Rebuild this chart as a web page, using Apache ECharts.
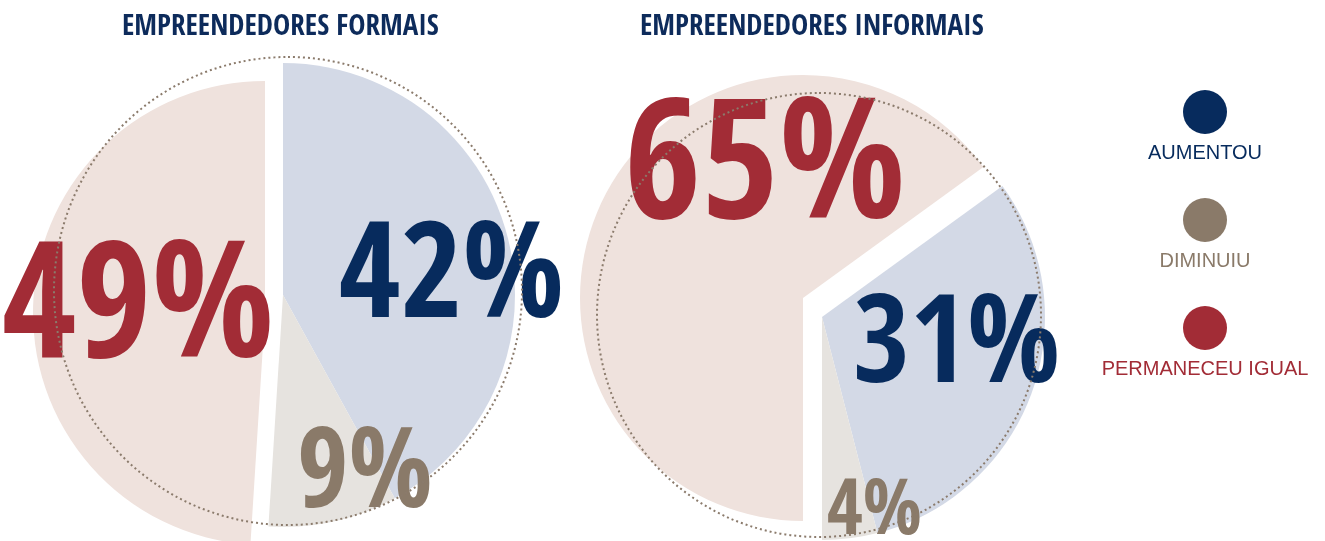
<!DOCTYPE html>
<html>
<head>
<meta charset="utf-8">
<script src="https://cdn.jsdelivr.net/npm/echarts@6/dist/echarts.min.js"></script>
<style>
html,body{margin:0;padding:0;background:#ffffff;}
#c{width:1325px;height:541px;}
</style>
</head>
<body>
<div id="c"></div>
<script>
// ---- data ----
const categories = ['AUMENTOU', 'DIMINUIU', 'PERMANECEU IGUAL'];
const formaisValues = [42, 9, 49];
const informaisValues = [31, 4, 65];
const chartTitles = ['EMPREENDEDORES FORMAIS', 'EMPREENDEDORES INFORMAIS'];

// ---- styles ----
const sliceColors = ['#d3d9e6', '#e6e3df', '#efe2dd'];
const textColors = ['#072b5d', '#8a7a69', '#a22c36'];
const titleColor = '#0d2b5b';
const dotColor = '#8b7b6c';
const numFont = "'Open Sans Condensed', 'Noto Sans', sans-serif";

function pieSeries(values, cfg) {
  return {
    type: 'pie',
    center: cfg.center,
    radius: [0, cfg.r],
    startAngle: cfg.startAngle,
    clockwise: true,
    silent: true,
    z: 2,
    avoidLabelOverlap: false,
    legendHoverLink: false,
    emphasis: { disabled: true },
    itemStyle: { borderWidth: 0 },
    labelLine: { show: false },
    label: {
      show: true,
      position: 'inside',
      formatter: '{c}%',
      fontFamily: numFont,
      fontWeight: 'bold'
    },
    labelLayout: function (p) {
      const o = cfg.offsets[p.dataIndex];
      return { dx: o[0], dy: o[1] };
    },
    data: values.map(function (v, i) {
      return {
        name: categories[i],
        value: v,
        itemStyle: { color: cfg.show[i] ? sliceColors[i] : 'rgba(0,0,0,0)' },
        label: cfg.show[i]
          ? { show: true, color: textColors[i], fontSize: cfg.fontSizes[i] }
          : { show: false }
      };
    })
  };
}

function dottedRing(center, r) {
  return {
    type: 'pie',
    center: center,
    radius: [0, r],
    silent: true,
    z: 5,
    legendHoverLink: false,
    emphasis: { disabled: true },
    label: { show: false },
    labelLine: { show: false },
    itemStyle: {
      color: 'rgba(0,0,0,0)',
      borderColor: dotColor,
      borderWidth: 2,
      borderType: [2, 3]
    },
    data: [{ value: 1, name: '' }]
  };
}

const rich = {};
categories.forEach(function (c, i) {
  rich['d' + i] = { width: 44, height: 44, borderRadius: 22, backgroundColor: textColors[i], align: 'center' };
  rich['t' + i] = { width: 230, align: 'center', fontSize: 20, lineHeight: 38, fontFamily: 'Liberation Sans', color: textColors[i] };
});

const titleStyle = { fontFamily: numFont, fontWeight: 'bold', fontSize: 29, color: titleColor };

const option = {
  backgroundColor: '#ffffff',
  animation: false,
  title: [
    { text: chartTitles[0], left: 117, top: 8, textStyle: titleStyle },
    { text: chartTitles[1], left: 635, top: 8, textStyle: titleStyle }
  ],
  legend: {
    orient: 'vertical',
    left: 1080,
    top: 85,
    itemGap: 35,
    icon: 'circle',
    itemWidth: 0,
    itemHeight: 0,
    selectedMode: false,
    data: categories,
    formatter: function (name) {
      const i = categories.indexOf(name);
      return '{d' + i + '|}\n{t' + i + '|' + name + '}';
    },
    textStyle: { rich: rich }
  },
  series: [
    pieSeries(formaisValues, {
      center: [283, 295], r: 232, startAngle: 90,
      show: [true, true, false],
      fontSizes: [134, 111, 162],
      offsets: [[53, 17], [56, 67], [0, 0]]
    }),
    pieSeries(formaisValues, {
      center: [265, 313], r: 232, startAngle: 90,
      show: [false, false, true],
      fontSizes: [134, 111, 162],
      offsets: [[0, 0], [0, 0], [-8, 5]]
    }),
    pieSeries(informaisValues, {
      center: [822, 317], r: 223, startAngle: 36,
      show: [true, true, false],
      fontSizes: [123, 78, 167],
      offsets: [[27, -6], [38, 83], [0, 0]]
    }),
    pieSeries(informaisValues, {
      center: [803, 298], r: 223, startAngle: 36,
      show: [false, false, true],
      fontSizes: [123, 78, 167],
      offsets: [[0, 0], [0, 0], [64, -72]]
    }),
    dottedRing([288, 291], 234),
    dottedRing([819, 315], 222)
  ]
};

const chart = echarts.init(document.getElementById('c'), null, { renderer: 'canvas' });
chart.setOption(option);
</script>
</body>
</html>
